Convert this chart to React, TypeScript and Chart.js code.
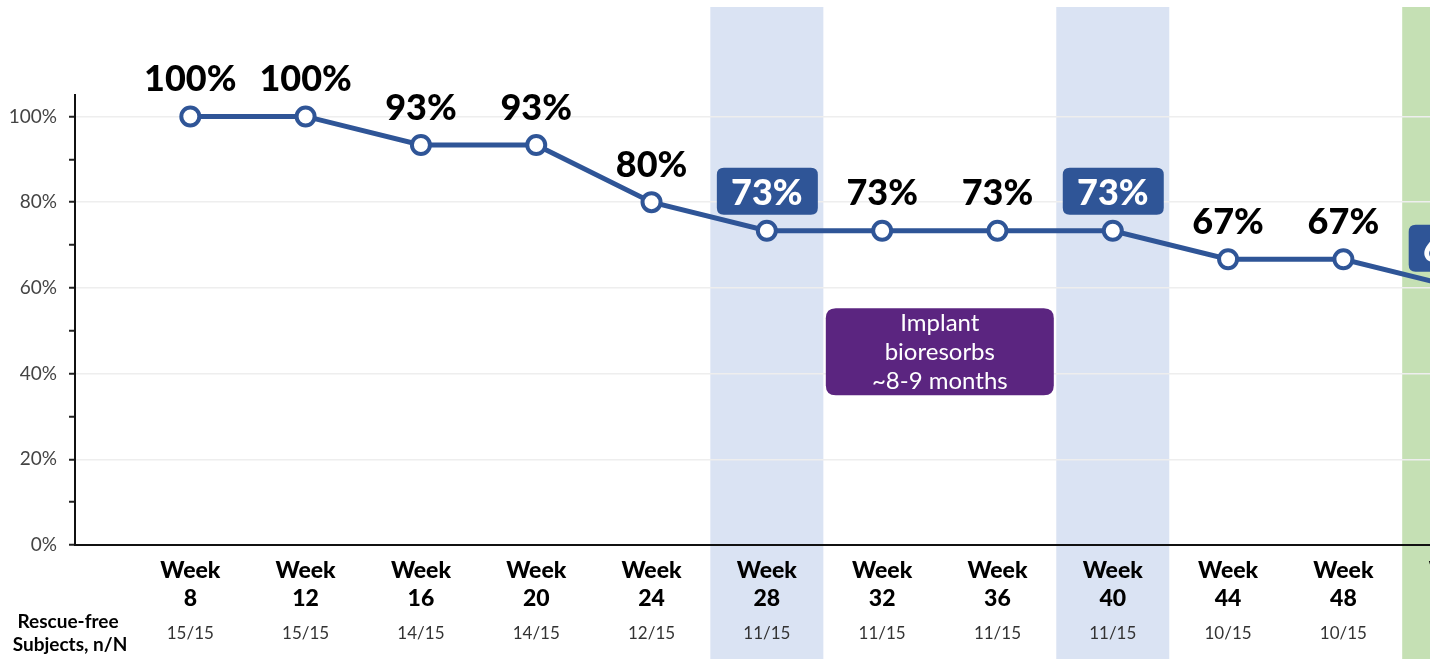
import React, { useEffect, useRef } from 'react';
import { Chart, registerables } from 'chart.js';

Chart.register(...registerables);

// ---- data ----
const weeks = [8, 12, 16, 20, 24, 28, 32, 36, 40, 44, 48, 52];
const rescueFree = [15, 15, 14, 14, 12, 11, 11, 11, 11, 10, 10, 9];
const totalN = [15, 15, 15, 15, 15, 15, 15, 15, 15, 15, 15, 15];
const highlightWeeks = [28, 40, 52];
const blueBandWeeks = [28, 40];
const greenBandWeeks = [52];
const yTickValues = [0, 10, 20, 30, 40, 50, 60, 70, 80, 90, 100];
const noteLines = ['Implant', 'bioresorbs', '~8-9 months'];
const noteWeek = 34;
const noteValue = 45;
const rowLabel = ['Rescue-free', 'Subjects, n/N'];

const percentValues = rescueFree.map((n, i) => (n / totalN[i]) * 100);

const BLUE = '#2f5597';
const FONT = 'Lato, "Open Sans", sans-serif';

function roundRect(ctx: CanvasRenderingContext2D, x: number, y: number, w: number, h: number, r: number) {
  ctx.beginPath();
  ctx.moveTo(x + r, y);
  ctx.lineTo(x + w - r, y);
  ctx.quadraticCurveTo(x + w, y, x + w, y + r);
  ctx.lineTo(x + w, y + h - r);
  ctx.quadraticCurveTo(x + w, y + h, x + w - r, y + h);
  ctx.lineTo(x + r, y + h);
  ctx.quadraticCurveTo(x, y + h, x, y + h - r);
  ctx.lineTo(x, y + r);
  ctx.quadraticCurveTo(x, y, x + r, y);
  ctx.closePath();
}

const bandsPlugin = {
  id: 'bands',
  beforeDraw(chart: any) {
    const { ctx, scales } = chart;
    const xs = scales.x;
    ctx.save();
    const half = (xs.getPixelForValue(4) - xs.getPixelForValue(2)) * 0.98;
    const drawBand = (w: number, color: string) => {
      const cx = xs.getPixelForValue(w);
      ctx.fillStyle = color;
      ctx.fillRect(cx - half, 7, half * 2, chart.height - 7);
    };
    blueBandWeeks.forEach((w) => drawBand(w, '#dae3f3'));
    greenBandWeeks.forEach((w) => drawBand(w, '#c5e0b4'));
    ctx.restore();
  },
};

const labelsPlugin = {
  id: 'pointLabels',
  afterDatasetsDraw(chart: any) {
    const { ctx } = chart;
    const meta = chart.getDatasetMeta(0);
    ctx.save();
    ctx.textAlign = 'center';
    ctx.textBaseline = 'middle';
    ctx.font = `900 36px ${FONT}`;
    meta.data.forEach((pt: any, i: number) => {
      const label = Math.round(percentValues[i]) + '%';
      const cx = pt.x;
      const cy = pt.y - 39;
      if (highlightWeeks.includes(weeks[i])) {
        ctx.fillStyle = BLUE;
        roundRect(ctx, cx - 50, cy - 24, 101, 47, 7);
        ctx.fill();
        ctx.fillStyle = '#ffffff';
      } else {
        ctx.fillStyle = '#000000';
      }
      ctx.fillText(label, cx, cy + 2);
    });
    ctx.restore();
  },
  afterDraw(chart: any) {
    const { ctx, scales } = chart;
    const xs = scales.x;
    const ys = scales.y;
    ctx.save();
    // purple note box
    const nx = xs.getPixelForValue(noteWeek);
    const ny = ys.getPixelForValue(noteValue);
    ctx.fillStyle = '#5b2580';
    roundRect(ctx, nx - 114, ny - 44, 228, 87, 10);
    ctx.fill();
    ctx.fillStyle = '#ffffff';
    ctx.font = `24px ${FONT}`;
    ctx.textAlign = 'center';
    ctx.textBaseline = 'middle';
    noteLines.forEach((t, i) => ctx.fillText(t, nx, ny - 29 + i * 29));

    // n/N row
    ctx.fillStyle = '#333333';
    ctx.font = `17px ${FONT}`;
    weeks.forEach((w, i) => {
      ctx.fillText(`${rescueFree[i]}/${totalN[i]}`, xs.getPixelForValue(w), 634);
    });
    // row label
    ctx.fillStyle = '#000000';
    ctx.font = `bold 19px ${FONT}`;
    ctx.fillText(rowLabel[0], 68, 622);
    ctx.fillText(rowLabel[1], 70, 645);
    ctx.restore();
  },
};

export default function App() {
  const ref = useRef<HTMLCanvasElement | null>(null);
  useEffect(() => {
    if (!ref.current) return;
    const chart = new Chart(ref.current, {
      type: 'line',
      data: {
        datasets: [
          {
            data: weeks.map((w, i) => ({ x: w, y: percentValues[i] })),
            borderColor: BLUE,
            borderWidth: 5,
            pointRadius: 9,
            pointBorderWidth: 4,
            pointBackgroundColor: '#ffffff',
            pointBorderColor: BLUE,
            tension: 0,
          },
        ],
      },
      options: {
        responsive: false,
        animation: false,
        events: [],
        layout: { padding: { top: 95, left: 0, right: 6, bottom: 0 } },
        plugins: { legend: { display: false }, tooltip: { enabled: false } },
        scales: {
          x: {
            type: 'linear',
            min: 4,
            max: 56,
            afterBuildTicks: (s: any) => {
              s.ticks = weeks.map((v) => ({ value: v }));
            },
            afterFit: (s: any) => {
              s.height = 114;
            },
            grid: { display: false, drawTicks: false },
            border: { display: true, color: '#111', width: 2 },
            ticks: {
              autoSkip: false,
              maxRotation: 0,
              padding: 12,
              color: '#000',
              font: { family: FONT, size: 23, weight: '900', lineHeight: 1.2 },
              callback: (v: any) => ['Week', String(v)],
            },
          },
          y: {
            min: 0,
            max: 105,
            afterBuildTicks: (s: any) => {
              s.ticks = yTickValues.map((v) => ({ value: v }));
            },
            afterFit: (s: any) => {
              s.width = 75;
            },
            grid: {
              color: (c: any) => (c.tick && c.tick.value % 20 === 0 && c.tick.value > 0 ? '#eeeeee' : 'rgba(0,0,0,0)'),
              tickColor: '#222',
              tickLength: 6,
              tickWidth: 2,
              lineWidth: 1.5,
            },
            border: { display: true, color: '#111', width: 2 },
            ticks: {
              padding: 12,
              color: '#444',
              font: { family: FONT, size: 19 },
              callback: (v: any) => (Number(v) % 20 === 0 ? `${v}%` : ''),
            },
          },
        },
      },
      plugins: [bandsPlugin, labelsPlugin],
    } as any);
    return () => chart.destroy();
  }, []);

  return (
    <div
      style={{
        position: 'fixed',
        left: 0,
        top: 0,
        width: 1430,
        height: 659,
        overflow: 'hidden',
        background: '#ffffff',
      }}
    >
      <canvas ref={ref} width={1587} height={659} style={{ display: 'block', width: 1587, height: 659 }} />
    </div>
  );
}
